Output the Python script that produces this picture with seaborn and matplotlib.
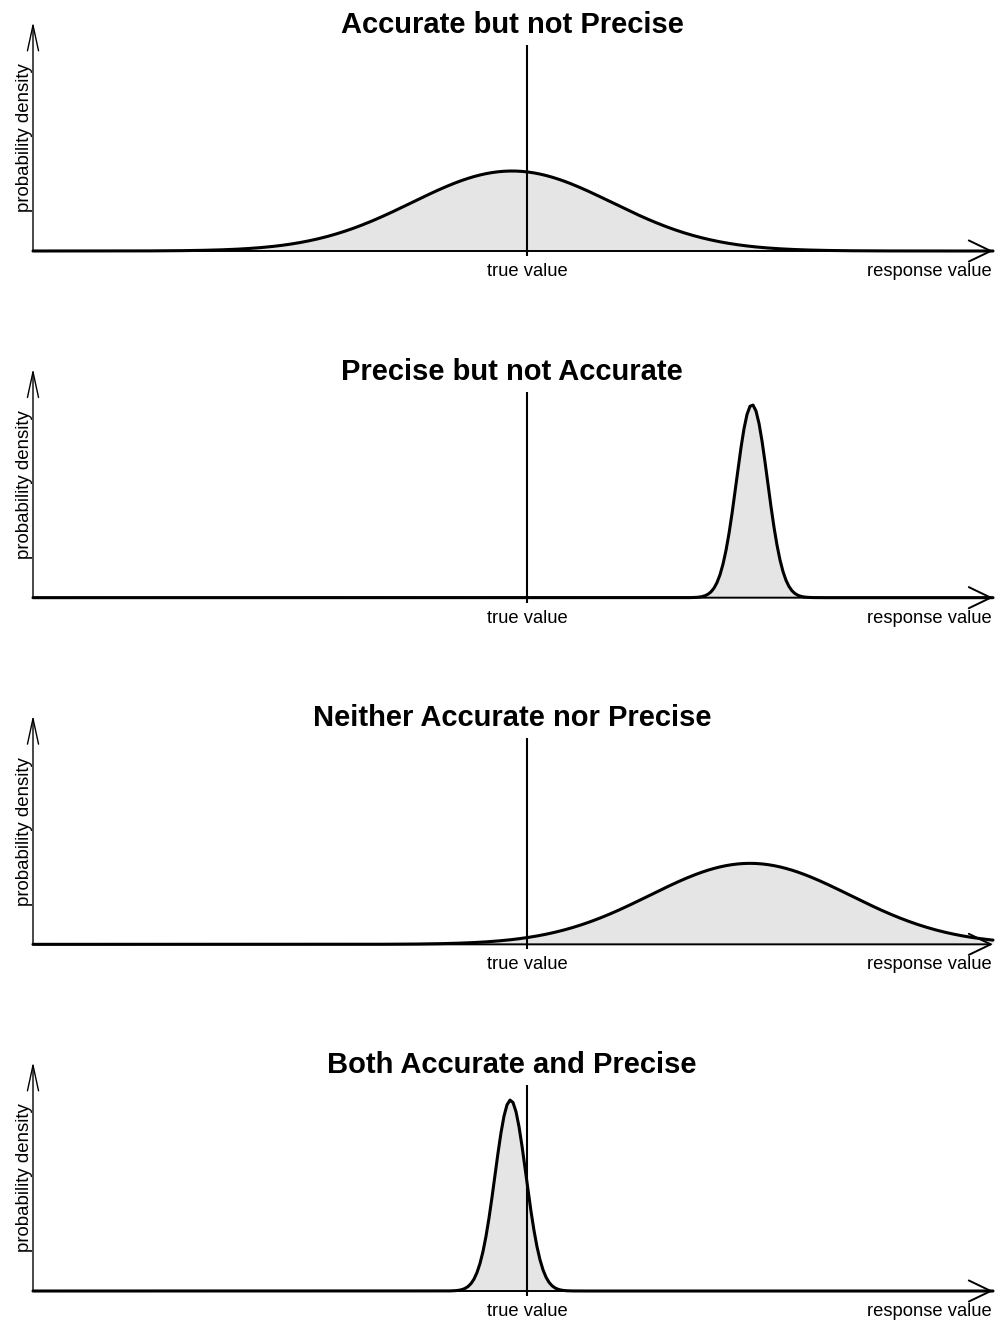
import numpy as np
import matplotlib
matplotlib.use("Agg")
import matplotlib.pyplot as plt
import seaborn as sns

# Four measurement scenarios: where the response distribution sits relative
# to the true value (center) and how wide it is (spread), plus drawn height.
titles = ["Accurate but not Precise", "Precise but not Accurate",
          "Neither Accurate nor Precise", "Both Accurate and Precise"]
centers = [-0.15, 2.25, 2.23, -0.165]
spreads = [1.00, 0.155, 1.00, 0.155]
heights = [0.80, 1.93, 0.81, 1.91]
true_value = 0.0

x_label = "response value"
y_label = "probability density"
tick_label = "true value"

sns.set_theme(style="white")
plt.rcParams["font.family"] = ["Liberation Sans", "DejaVu Sans"]
plt.rcParams["text.color"] = "black"

W, H = 998, 1323
fig = plt.figure(figsize=(W / 100, H / 100), dpi=100)

# horizontal extent of the drawn axes (data units, true value at 0)
x_lo, x_hi = -4.94, 4.66
grid = np.linspace(x_lo, x_hi, 321)

panel_step = 346.67
first_base = 251

for i, (title, mu, sd, peak) in enumerate(zip(titles, centers, spreads, heights)):
    base_px = first_base + i * panel_step
    bottom = 1 - (base_px + 40) / H
    ax = fig.add_axes([0, bottom, 1, 290 / H])
    ax.set_xlim(-5.27, 4.71)
    ax.set_ylim(-0.40, 2.50)
    ax.axis("off")

    dens = peak * np.exp(-0.5 * ((grid - mu) / sd) ** 2)
    ax.fill_between(grid, 0, dens, color="#E5E5E5", lw=0, zorder=1)
    sns.lineplot(x=grid, y=dens, ax=ax, color="black", lw=2.2, zorder=3)

    # axes drawn as arrows
    ax.annotate("", xy=(x_hi, 0), xytext=(x_lo, 0),
                arrowprops=dict(arrowstyle="->,head_length=1.58,head_width=0.76",
                                lw=1.4, color="black", shrinkA=0, shrinkB=0,
                                mutation_scale=10), zorder=2)
    ax.annotate("", xy=(x_lo, 2.29), xytext=(x_lo, 0),
                arrowprops=dict(arrowstyle="->,head_length=1.84,head_width=0.40",
                                lw=1.0, color="black", shrinkA=0, shrinkB=0,
                                mutation_scale=10), zorder=2)

    # reference line at the true value
    ax.vlines(true_value, -0.05, 2.06, color="black", lw=1.5, zorder=4)

    ax.text(true_value, -0.25, tick_label, ha="center", va="baseline",
            fontsize=13.2, color="black")
    ax.text(x_hi - 0.01, -0.25, x_label, ha="right", va="baseline",
            fontsize=13.2, color="black")
    ax.text(-5.025, 1.13, y_label, rotation=90, ha="center", va="center",
            fontsize=13.4, color="black")
    ax.text(-0.15, 2.18, title, ha="center", va="baseline", fontsize=21,
            fontweight="bold", color="black")

fig.savefig("out.png", dpi=100, facecolor="white")
